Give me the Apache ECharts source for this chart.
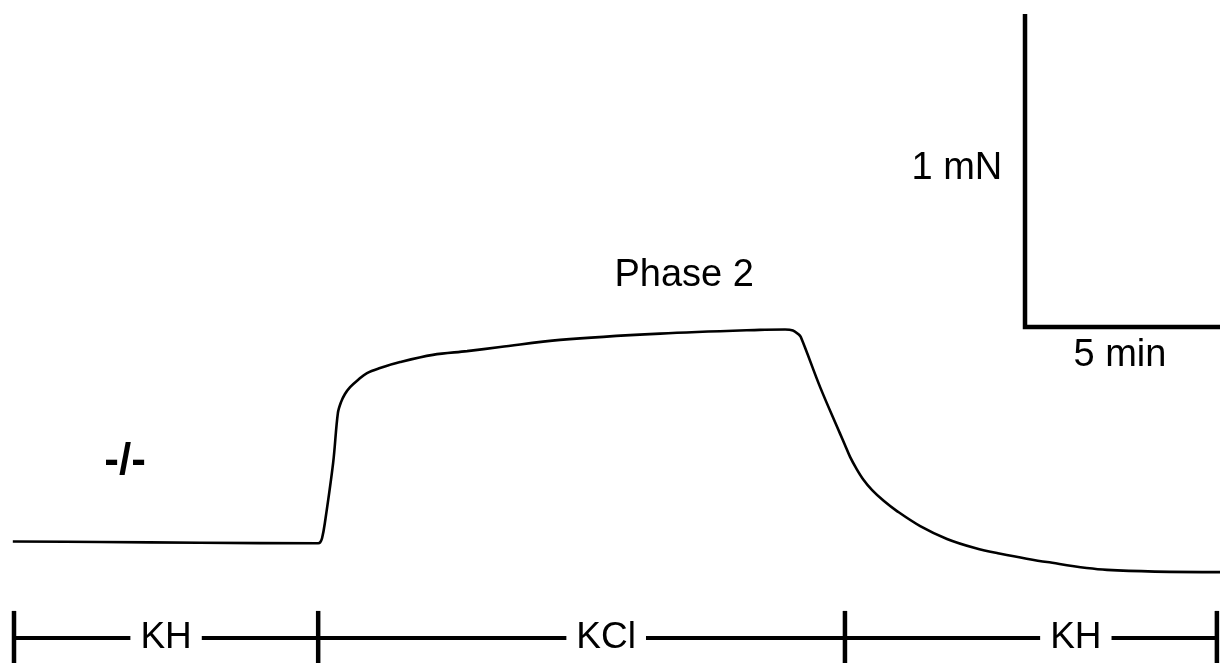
<!DOCTYPE html>
<html>
<head>
<meta charset="utf-8">
<title>KCl contraction trace</title>
<script src="https://cdn.jsdelivr.net/npm/echarts@6/dist/echarts.min.js"></script>
<style>
  html, body { margin: 0; padding: 0; background: #ffffff; }
  #chart { width: 1220px; height: 663px; }
</style>
</head>
<body>
<div id="chart"></div>
<script>
// Isometric force trace: time in minutes, force in mN (relative to resting baseline)
const traceTime = [-0.03, 2.18, 4.72, 7.72, 7.77, 7.82, 7.89, 8.10, 8.22, 8.30, 8.40, 8.53, 8.73, 8.96,
  9.29, 9.80, 10.63, 11.50, 12.34, 13.86, 16.40, 18.93, 19.57, 19.77, 19.90, 19.97, 20.46, 20.96,
  21.09, 21.22, 21.37, 21.55, 21.78, 22.08, 22.41, 23.00, 23.68, 24.39, 24.95, 26.22, 27.74, 30.61];
const traceForce = [0.005, 0.003, 0.001, -0.001, 0.002, 0.016, 0.064, 0.256, 0.415, 0.450, 0.476, 0.498, 0.521, 0.543,
  0.559, 0.578, 0.601, 0.613, 0.626, 0.649, 0.669, 0.681, 0.682, 0.679, 0.668, 0.658, 0.498, 0.351,
  0.313, 0.275, 0.240, 0.204, 0.169, 0.134, 0.102, 0.054, 0.013, -0.016, -0.032, -0.061, -0.086, -0.093];

// Solution periods (minutes): KH → KCl → KH
const periodNames = ['KH', 'KCl', 'KH'];
const periodBounds = [0, 7.72, 21.09, 30.53];

// Scale bars
const scaleForce = 1;   // mN
const scaleTime = 5;    // min
const scaleLabels = ['1 mN', '5 min'];

// Other annotations
const noteTexts = ['Phase 2', '-/-'];

// Plot frame and annotation anchors (data units)
const X_MIN = -0.3553, X_MAX = 30.609;
const Y_MIN = -0.3834, Y_MAX = 1.7348;
const barY = -0.3035;          // level of the solution bar
const tickTop = -0.217;        // top of the bar's end ticks
const scaleOrigin = [25.66, 0.69];
const periodLabelX = [3.86, 15.03, 26.95];
const notePos = [[17.01, 0.855], [2.82, 0.259]];
const scaleLabelPos = [[23.93, 1.198], [28.07, 0.598]];

const FONT = '"Liberation Sans", Arial, sans-serif';

const traceData = traceTime.map((t, i) => [t, traceForce[i]]);

// Solution bar: one horizontal line with vertical ticks at each boundary
const barLine = [[periodBounds[0], barY], [periodBounds[periodBounds.length - 1], barY]];
const tickSeries = periodBounds.map(b => ({
  type: 'line',
  data: [[b, tickTop], [b, Y_MIN]],
  symbol: 'none',
  silent: true,
  lineStyle: { color: '#000', width: 4.5, cap: 'butt' },
  z: 3
}));

const scaleBar = [
  [scaleOrigin[0], scaleOrigin[1] + scaleForce],
  [scaleOrigin[0], scaleOrigin[1]],
  [scaleOrigin[0] + scaleTime, scaleOrigin[1]]
];

function textSeries(items, fontSize, fontWeight, bg, padding) {
  return {
    type: 'scatter',
    symbolSize: 0,
    silent: true,
    z: 5,
    itemStyle: { opacity: 1 },
    data: items.map(it => ({ value: it.pos, name: it.text })),
    label: {
      show: true,
      position: 'inside',
      formatter: p => p.name,
      color: '#000000',
      opacity: 1,
      textBorderWidth: 0,
      fontFamily: FONT,
      fontSize: fontSize,
      fontWeight: fontWeight,
      backgroundColor: bg,
      padding: padding
    }
  };
}

const chart = echarts.init(document.getElementById('chart'), null, { renderer: 'canvas' });
chart.setOption({
  backgroundColor: '#ffffff',
  animation: false,
  grid: { left: 0, right: 0, top: 0, bottom: 0 },
  xAxis: { type: 'value', min: X_MIN, max: X_MAX, show: false },
  yAxis: { type: 'value', min: Y_MIN, max: Y_MAX, show: false },
  series: [
    {
      type: 'line',
      data: traceData,
      symbol: 'none',
      smooth: 0.35,
      silent: true,
      lineStyle: { color: '#000', width: 2.6 },
      z: 2
    },
    {
      type: 'line',
      data: barLine,
      symbol: 'none',
      silent: true,
      lineStyle: { color: '#000', width: 4, cap: 'butt' },
      z: 2
    },
    ...tickSeries,
    {
      type: 'line',
      data: scaleBar,
      symbol: 'none',
      silent: true,
      clip: false,
      lineStyle: { color: '#000', width: 4.5, cap: 'butt', join: 'miter' },
      z: 2
    },
    textSeries(periodNames.map((n, i) => ({ text: n, pos: [periodLabelX[i], barY] })), 37, 'normal', '#ffffff', [2, 10]),
    textSeries([
      { text: noteTexts[0], pos: notePos[0] },
      { text: scaleLabels[0], pos: scaleLabelPos[0] },
      { text: scaleLabels[1], pos: scaleLabelPos[1] }
    ], 38, 'normal', 'transparent', 0),
    textSeries([{ text: noteTexts[1], pos: notePos[1] }], 44, 'bold', 'transparent', 0)
  ]
});
</script>
</body>
</html>
